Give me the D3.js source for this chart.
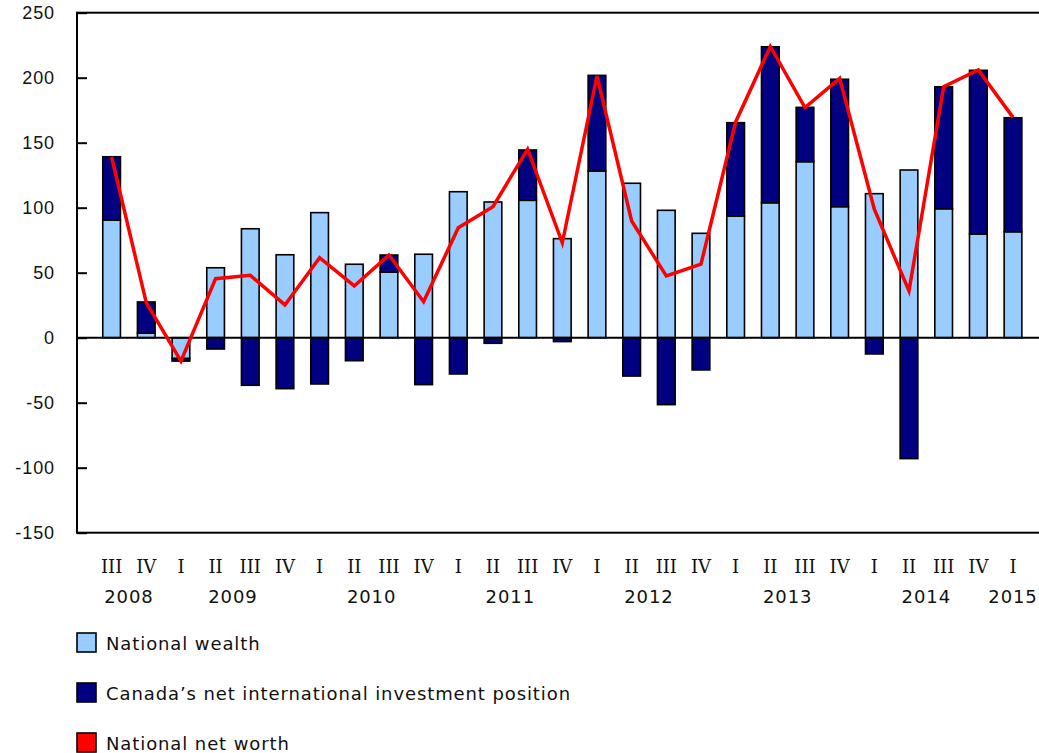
<!DOCTYPE html>
<html>
<head>
<meta charset="utf-8">
<script src="https://cdn.jsdelivr.net/npm/d3@7"></script>
<style>
  body { margin: 0; background: white; }
  svg { display: block; font-family: "DejaVu Sans", Verdana, sans-serif; }
</style>
</head>
<body>
<script>
// quarters from 2008 III to 2015 I
const quarters = ["III","IV","I","II","III","IV","I","II","III","IV","I","II","III","IV",
                  "I","II","III","IV","I","II","III","IV","I","II","III","IV","I"]
const years = [
  ["2008", 0, 1], ["2009", 2, 5], ["2010", 6, 9], ["2011", 10, 13],
  ["2012", 14, 17], ["2013", 18, 21], ["2014", 22, 25], ["2015", 26, 26]
]
const wealth = [90.5, 3.5, -16, 53.8, 83.8, 63.8, 96.2, 56.5, 50.5, 64.2, 112.3, 104.4, 105.7, 76.2,
                128.2, 118.8, 98, 80.3, 93.6, 103.8, 135.4, 100.8, 110.8, 129, 99.2, 79.8, 81.5]
const niip = [48.7, 24, -2, -8.7, -36.6, -39.2, -35.6, -17.7, 13.1, -36.1, -27.9, -4.3, 38.7, -3,
              73.6, -29.5, -51.5, -24.8, 71.8, 120, 41.8, 98, -12.5, -93, 93.8, 125.9, 87.7]
const netWorth = [139, 27, -18, 45.4, 48, 25.2, 61.5, 39.8, 63.6, 27.7, 84.6, 100.8, 145, 73,
                  201.3, 89.8, 47.5, 56.5, 166, 224, 177, 199.5, 98.8, 36, 193, 206, 169.5]
const yTicks = [-150, -100, -50, 0, 50, 100, 150, 200, 250]
const legendItems = [
  ["National wealth", "#99ccff"],
  ["Canada\u2019s net international investment position", "#000080"],
  ["National net worth", "#ff0000"]
]

const [width, height] = [1039, 753]
const plot = { left: 77, top: 12.7, bottom: 532.7, right: 1048 }
const spacing = "0.9px"

const svg = d3.select("body").append("svg")
    .attr("width", width)
    .attr("height", height)

const y = d3.scaleLinear().domain([-150, 250]).range([plot.bottom, plot.top])
const idx = d3.range(quarters.length)
const x = d3.scalePoint().domain(idx).range([111.6, 1013])
const barW = x.step() * 0.51

const rows = idx.map(i => ({ i, wealth: wealth[i], niip: niip[i] }))
const series = d3.stack()
    .keys(["wealth", "niip"])
    .offset(d3.stackOffsetDiverging)(rows)
const fills = { wealth: "#99ccff", niip: "#000080" }

// frame
svg.append("rect")
    .attr("x", plot.left).attr("y", plot.top)
    .attr("width", plot.right - plot.left).attr("height", plot.bottom - plot.top)
    .attr("fill", "none").attr("stroke", "black").attr("stroke-width", 2)

// bars
svg.append("g")
  .selectAll("g")
  .data(series)
  .join("g")
    .attr("fill", d => fills[d.key])
  .selectAll("rect")
  .data(d => d)
  .join("rect")
    .attr("x", d => x(d.data.i) - barW / 2)
    .attr("width", barW)
    .attr("y", d => y(Math.max(d[0], d[1])))
    .attr("height", d => Math.abs(y(d[0]) - y(d[1])))
    .attr("stroke", "black")
    .attr("stroke-width", 1.6)

// zero line
svg.append("line")
    .attr("x1", plot.left).attr("x2", plot.right)
    .attr("y1", y(0)).attr("y2", y(0))
    .attr("stroke", "black").attr("stroke-width", 2)

// net worth line
svg.append("path")
    .datum(netWorth)
    .attr("fill", "none")
    .attr("stroke", "#ff0000")
    .attr("stroke-width", 3.5)
    .attr("d", d3.line().x((d, i) => x(i)).y(d => y(d)))

// y axis (ticks inside)
const yAxis = svg.append("g")
    .attr("transform", `translate(${plot.left},0)`)
    .call(d3.axisRight(y).tickValues(yTicks).tickSize(10).tickFormat(d => String(d)))
yAxis.select(".domain").remove()
yAxis.selectAll("line").attr("stroke", "black").attr("stroke-width", 2)
yAxis.selectAll("text")
    .attr("x", -22)
    .attr("text-anchor", "end")
    .attr("font-size", 18)
    .attr("letter-spacing", spacing)
    .attr("fill", "#111")

// x labels
svg.append("g")
  .selectAll("text")
  .data(quarters)
  .join("text")
    .attr("x", (d, i) => x(i))
    .attr("y", 573)
    .attr("text-anchor", "middle")
    .attr("font-family", "'DejaVu Serif', serif")
    .attr("font-size", 18)
    .attr("fill", "#111")
    .text(d => d)

svg.append("g")
  .selectAll("text")
  .data(years)
  .join("text")
    .attr("x", d => (x(d[1]) + x(d[2])) / 2)
    .attr("y", 603)
    .attr("text-anchor", "middle")
    .attr("font-size", 18)
    .attr("letter-spacing", spacing)
    .attr("fill", "#111")
    .text(d => d[0])

// legend
const legend = svg.append("g")
  .selectAll("g")
  .data(legendItems)
  .join("g")
    .attr("transform", (d, i) => `translate(77,${633 + i * 50})`)
legend.append("rect")
    .attr("width", 19).attr("height", 19)
    .attr("fill", d => d[1])
    .attr("stroke", "black").attr("stroke-width", 1.6)
legend.append("text")
    .attr("x", 29).attr("y", 17)
    .attr("font-size", 18)
    .attr("letter-spacing", spacing)
    .attr("fill", "#111")
    .text(d => d[0])
</script>
</body>
</html>
